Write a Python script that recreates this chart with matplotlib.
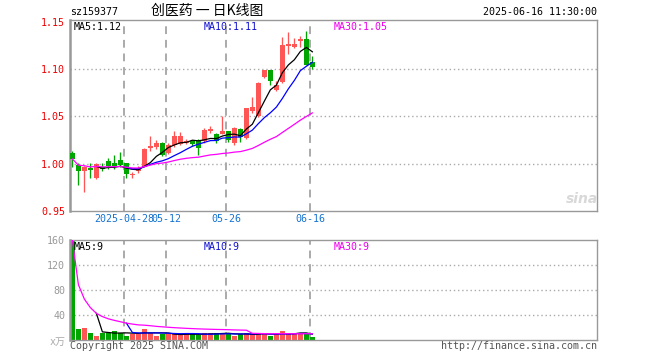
import matplotlib
matplotlib.use("Agg")
import matplotlib.pyplot as plt
import numpy as np
import pandas as pd

# ---------------- data ----------------
dates = ["2025-04-15", "2025-04-16", "2025-04-17", "2025-04-18", "2025-04-21",
         "2025-04-22", "2025-04-23", "2025-04-24", "2025-04-25", "2025-04-28",
         "2025-04-29", "2025-04-30", "2025-05-06", "2025-05-07", "2025-05-08",
         "2025-05-09", "2025-05-12", "2025-05-13", "2025-05-14", "2025-05-15",
         "2025-05-16", "2025-05-19", "2025-05-20", "2025-05-21", "2025-05-22",
         "2025-05-23", "2025-05-26", "2025-05-27", "2025-05-28", "2025-05-29",
         "2025-05-30", "2025-06-03", "2025-06-04", "2025-06-05", "2025-06-06",
         "2025-06-09", "2025-06-10", "2025-06-11", "2025-06-12", "2025-06-13",
         "2025-06-16"]
opens = [1.011, 0.999, 0.992, 0.9955, 0.985, 0.997, 1.0024, 1.0003, 1.0042, 1.001,
         0.9876, 0.9920, 0.9965, 1.0162, 1.0177, 1.0219, 1.0113, 1.0201, 1.0208, 1.0219,
         1.0236, 1.0247, 1.0236, 1.0349, 1.0317, 1.0317, 1.0346, 1.0219, 1.0367, 1.0272,
         1.0553, 1.050, 1.0916, 1.0986, 1.0775, 1.086, 1.124, 1.1233, 1.130, 1.1321,
         1.1071]
highs = [1.013, 1.001, 0.998, 1.0005, 1.0007, 1.0005, 1.006, 1.0095, 1.0127, 1.001,
         0.9908, 0.998, 1.0162, 1.0296, 1.025, 1.0227, 1.022, 1.0343, 1.034, 1.026,
         1.025, 1.026, 1.0377, 1.0395, 1.033, 1.0507, 1.035, 1.0385, 1.038, 1.0589,
         1.0705, 1.086, 1.0995, 1.0986, 1.087, 1.1339, 1.1388, 1.133, 1.135, 1.1406,
         1.1142]
lows = [0.997, 0.978, 0.970, 0.985, 0.984, 0.992, 0.9944, 0.9944, 0.9965, 0.985,
        0.9849, 0.9905, 0.9965, 1.013, 1.016, 1.0077, 1.010, 1.018, 1.020, 1.021,
        1.019, 1.0088, 1.022, 1.032, 1.0215, 1.031, 1.023, 1.020, 1.0225, 1.026,
        1.054, 1.049, 1.091, 1.0835, 1.0765, 1.085, 1.116, 1.122, 1.123, 1.1047,
        1.1004]
closes = [1.005, 0.992, 0.9965, 0.993, 0.9993, 0.9945, 0.9971, 0.9971, 0.999, 0.989,
          0.9884, 0.9944, 1.016, 1.0183, 1.0219, 1.0095, 1.0201, 1.0296, 1.0296, 1.0243,
          1.0208, 1.0166, 1.0352, 1.0367, 1.0236, 1.0342, 1.0247, 1.0373, 1.0282, 1.0589,
          1.060, 1.0853, 1.0986, 1.088, 1.0835, 1.1258, 1.1265, 1.1261, 1.1318, 1.1047,
          1.1028]
volumes = [160, 17, 19, 11, 6, 12, 12, 14, 12, 7,
           10, 10, 18, 12, 7, 10, 9, 9, 9, 9,
           10, 8.5, 10.5, 10.5, 10.5, 12, 10.5, 6, 9, 10.5,
           9, 12, 10, 6, 10, 14, 9, 11, 12, 10.5,
           4.5]
tick_dates = ["2025-04-28", "2025-05-12", "2025-05-26", "2025-06-16"]
tick_labels = ["2025-04-28", "05-12", "05-26", "06-16"]
price_ticks = [0.95, 1.00, 1.05, 1.10, 1.15]
price_grid = [1.00, 1.05, 1.10]
vol_ticks = [40, 80, 120, 160]
vol_grid = [40, 80, 120]
ma_price_labels = ["MA5:1.12", "MA10:1.11", "MA30:1.05"]
ma_vol_labels = ["MA5:9", "MA10:9", "MA30:9"]

# ---------------- style ----------------
W, H = 660, 360
RED = "#ff5555"
GREEN = "#00a600"
GRID = "#aaaaaa"
SPINE = "#999999"
MONO = "DejaVu Sans Mono"
FS = 7.2
PX = 0.72  # one pixel in points

fig = plt.figure(figsize=(W / 100, H / 100), dpi=100)
fig.patch.set_facecolor("white")

ax = fig.add_axes([70 / W, 1 - 211 / H, 527 / W, 191 / H])
axv = fig.add_axes([70 / W, 1 - 340 / H, 527 / W, 100 / H])

n = len(closes)
idx = np.arange(n)
o = np.array(opens); c = np.array(closes)
h = np.array(highs); l = np.array(lows)
up = c >= o
cols = [RED if u else GREEN for u in up]

# grids
for g in price_grid:
    ax.axhline(g, color=GRID, lw=1.0, ls=(0, (1, 2)), zorder=0)
for g in vol_grid:
    axv.axhline(g, color=GRID, lw=1.0, ls=(0, (1, 2)), zorder=0)
tick_pos = [dates.index(d) - 0.4 for d in tick_dates]
for t in tick_pos:
    ax.axvline(t, color=GRID, lw=1.4, ls=(0, (4, 3)), zorder=0)
    axv.axvline(t, color=GRID, lw=1.4, ls=(0, (4, 3)), zorder=0)

# candles
bw = 0.78
ax.vlines(idx, l, h, colors=cols, lw=1.0 * PX * 1.3, zorder=2)
body_h = np.maximum(np.abs(c - o), 0.0012)
ax.bar(idx, body_h, bottom=np.minimum(o, c), width=bw, color=cols, lw=0, zorder=3)

# MA lines
cs = pd.Series(c)
ma5 = cs.rolling(5).mean()
ma10 = cs.rolling(10).mean()
ma30 = cs.rolling(30, min_periods=1).mean()
ax.plot(idx, ma5, color="black", lw=0.9, zorder=4)
ax.plot(idx, ma10, color="#0000ff", lw=0.9, zorder=4)
ax.plot(idx, ma30, color="#ff00ff", lw=0.9, zorder=4)

# volume
vs = pd.Series(volumes, dtype=float)
axv.bar(idx, vs, width=bw, color=cols, lw=0, zorder=2)
axv.plot(idx, vs.rolling(5).mean(), color="black", lw=0.9, zorder=4)
axv.plot(idx, vs.rolling(10).mean(), color="#0000ff", lw=0.9, zorder=4)
axv.plot(idx, vs.rolling(30, min_periods=1).mean(), color="#ff00ff", lw=0.9, zorder=4)

# axes limits and ticks
for a in (ax, axv):
    a.set_xlim(-0.4, 87.45)
    for s in a.spines.values():
        s.set_color(SPINE)
        s.set_linewidth(1.0)
    a.spines["left"].set_linewidth(1.8)
    a.tick_params(length=0)
ax.set_ylim(0.95, 1.152)
axv.set_ylim(0, 160)

ax.set_yticks(price_ticks)
ax.set_yticklabels([f"{p:.2f}" for p in price_ticks], color="#ee0000",
                   fontfamily=MONO, fontsize=FS)
ax.set_xticks(tick_pos)
ax.set_xticklabels(tick_labels, color="#1572d0", fontfamily=MONO, fontsize=FS)
ax.tick_params(axis="y", pad=3.5)
ax.tick_params(axis="x", pad=2.5)

axv.set_yticks(vol_ticks)
axv.set_yticklabels([str(v) for v in vol_ticks], color="#999999",
                    fontfamily=MONO, fontsize=FS)
axv.set_xticks([])
axv.tick_params(axis="y", pad=3.5)

# texts
def ft(x, y, s, **kw):
    kw.setdefault("fontfamily", MONO)
    kw.setdefault("fontsize", FS)
    kw.setdefault("va", "center")
    fig.text(x / W, 1 - y / H, s, **kw)

ft(70, 12, "sz159377", color="black")
ft(597, 12, "2025-06-16 11:30:00", color="black", ha="right")
ft(207, 11, "创医药 一 日K线图", color="black", ha="center",
   fontfamily=["Noto Sans CJK SC", "DejaVu Sans"], fontsize=10)

ma_cols = ["black", "#1010d0", "#ee00ee"]
ma_x = [74, 204, 334]
for s, col, x in zip(ma_price_labels, ma_cols, ma_x):
    ft(x, 26.5, s, color=col)
for s, col, x in zip(ma_vol_labels, ma_cols, ma_x):
    ft(x, 246.5, s, color=col)

ft(66, 341.5, "x万", color="#aaaaaa", ha="right",
   fontfamily=[MONO, "Noto Sans CJK SC"])
ft(70, 346, "Copyright 2025 SINA.COM", color="#555555")
ft(597, 346, "http://finance.sina.com.cn", color="#555555", ha="right")

# sina watermark
ft(582, 199, "sina", color="#d8d8d8", ha="center", fontfamily="DejaVu Sans",
   fontsize=10, fontweight="bold", fontstyle="italic")

fig.savefig("out.png", dpi=100, facecolor="white")
